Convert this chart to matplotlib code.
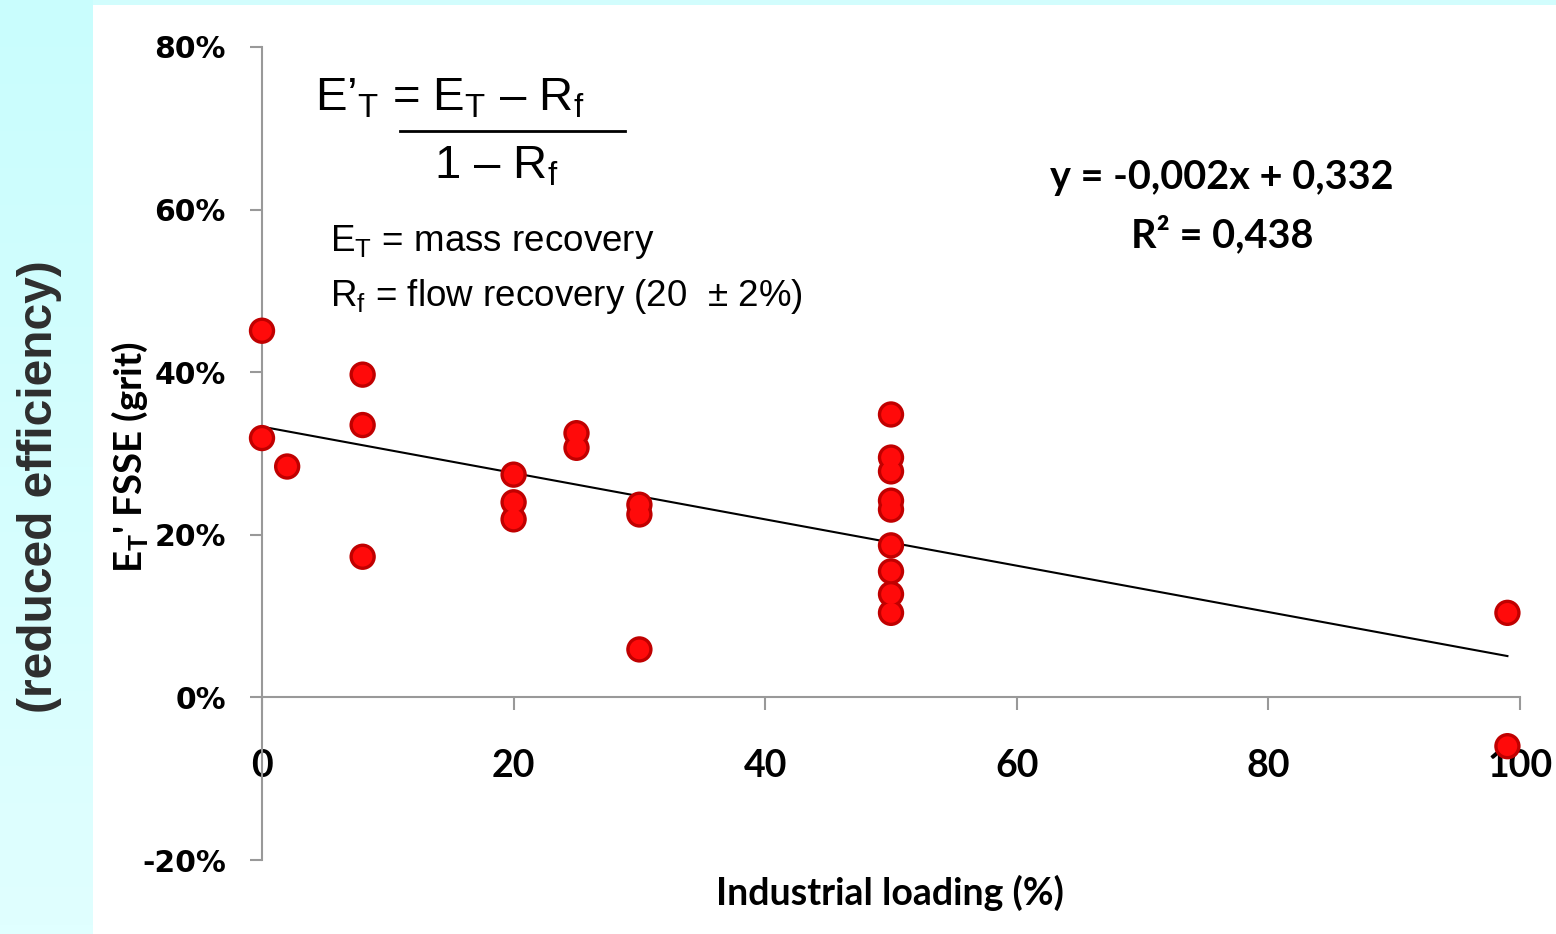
import numpy as np
import matplotlib
matplotlib.use('Agg')
import matplotlib.pyplot as plt
import matplotlib.patches as mpatches
from matplotlib.lines import Line2D
from matplotlib.ticker import PercentFormatter

# Data (x = industrial loading %, y = reduced efficiency as fraction)
loading = [0, 0, 2, 8, 8, 8, 20, 20, 20, 25, 25, 30, 30, 30,
           50, 50, 50, 50, 50, 50, 50, 50, 50, 99, 99]
efficiency = [0.451, 0.319, 0.284, 0.397, 0.335, 0.173, 0.274, 0.240, 0.219,
              0.325, 0.307, 0.237, 0.225, 0.059,
              0.348, 0.295, 0.278, 0.242, 0.231, 0.187, 0.155, 0.127, 0.104,
              0.104, -0.060]

# Trend line as drawn in the chart
trend_x = [0, 99]
trend_slope, trend_intercept = -0.00285, 0.333

x_ticks = [0, 20, 40, 60, 80, 100]
y_ticks = [-0.2, 0, 0.2, 0.4, 0.6, 0.8]

eq_text = 'y = -0,002x + 0,332'
r2_text = 'R\u00b2 = 0,438'

W, H = 1556, 934
plt.rcParams['axes.unicode_minus'] = False
plt.rcParams['mathtext.fontset'] = 'custom'
plt.rcParams['mathtext.rm'] = 'Liberation Sans'
plt.rcParams['mathtext.bf'] = 'Lato:bold'

def fx(px): return px / W
def fy(py): return 1 - py / H

fig = plt.figure(figsize = (W / 100, H / 100), dpi = 100, facecolor = '#d2fdfd')

# Left cyan gradient strip + white panel
bg = fig.add_axes([0, 0, fx(93), 1], zorder = -2)
bg.imshow(np.linspace(0, 1, 100).reshape(-1, 1), cmap = matplotlib.colors.LinearSegmentedColormap.from_list('c', ['#c9fdfd', '#e0ffff']),
          aspect = 'auto', extent = [0, 1, 0, 1])
bg.set_axis_off()
fig.add_artist(mpatches.Rectangle((fx(93), 0), 1 - fx(93), fy(5), facecolor = 'white', edgecolor = 'none',
                                  transform = fig.transFigure, zorder = -1))

ax = fig.add_axes([fx(262), fy(860), fx(1520) - fx(262), fy(47) - fy(860)])
ax.set_facecolor('none')

# Scatter (two layers to give a ball look)
ax.scatter(loading, efficiency, s = 360, color = '#c00000', edgecolor = 'none', clip_on = False, zorder = 3)
ax.scatter(loading, efficiency, s = 200, color = '#ff0a0a', edgecolor = 'none', clip_on = False, zorder = 3)

# Trend line
tx = np.array(trend_x)
ax.plot(tx, trend_slope * tx + trend_intercept, color = 'black', lw = 1.5, zorder = 2)

ax.set_xlim(0, 100)
ax.set_ylim(-0.2, 0.8)
ax.set_xticks(x_ticks)
ax.set_yticks(y_ticks)
ax.yaxis.set_major_formatter(PercentFormatter(1.0, decimals = 0))

for s in ['top', 'right']:
    ax.spines[s].set_visible(False)
ax.spines['bottom'].set_position(('data', 0))
for s in ['left', 'bottom']:
    ax.spines[s].set_color('#999999')
    ax.spines[s].set_linewidth(1.5)

ax.tick_params(axis = 'both', direction = 'out', length = 9, width = 1.5, color = '#999999')
ax.tick_params(axis = 'y', pad = 17)
ax.tick_params(axis = 'x', pad = 28)
for lab in ax.get_yticklabels():
    lab.set_fontfamily('DejaVu Sans'); lab.set_fontweight('bold'); lab.set_fontsize(21.5)
for lab in ax.get_xticklabels():
    lab.set_fontfamily('Lato'); lab.set_fontweight('bold'); lab.set_fontsize(27)

# Axis titles
fig.text(fx(890), fy(893), 'Industrial loading (%)', family = 'Lato', weight = 'bold', fontsize = 27,
         ha = 'center', va = 'center')
fig.text(fx(130), fy(457), "E$_\\mathbf{T}$' FSSE (grit)", family = 'Lato', weight = 'bold', fontsize = 27.5,
         rotation = 90, ha = 'center', va = 'center')
fig.text(fx(40), fy(487), '(reduced efficiency)', family = 'Liberation Sans', weight = 'bold', fontsize = 34.5,
         color = '#2e2e2e', rotation = 90, ha = 'center', va = 'center')

# Regression equation
fig.text(fx(1222), fy(178), eq_text, family = 'Lato', weight = 'bold', fontsize = 28.5, ha = 'center', va = 'center')
fig.text(fx(1222), fy(235), r2_text, family = 'Lato', weight = 'bold', fontsize = 28.5, ha = 'center', va = 'center')

# Formula block
fig.text(fx(315), fy(98), "E\u2019$_\\mathrm{T}$ = E$_\\mathrm{T}$ \u2013 R$_\\mathrm{f}$", family = 'Liberation Sans',
         fontsize = 34, ha = 'left', va = 'center')
fig.add_artist(Line2D([fx(400), fx(625)], [fy(131), fy(131)], color = 'black', lw = 2, transform = fig.transFigure))
fig.text(fx(496), fy(167), "1 \u2013 R$_\\mathrm{f}$", family = 'Liberation Sans', fontsize = 34,
         ha = 'center', va = 'center')
fig.text(fx(330), fy(242), "E$_\\mathrm{T}$ = mass recovery", family = 'Liberation Sans', fontsize = 26.5,
         ha = 'left', va = 'center')
fig.text(fx(330), fy(296), "R$_\\mathrm{f}$ = flow recovery (20  \u00b1 2%)", family = 'Liberation Sans', fontsize = 26.5,
         ha = 'left', va = 'center')

plt.savefig('out.png', dpi = 100, facecolor = fig.get_facecolor())
